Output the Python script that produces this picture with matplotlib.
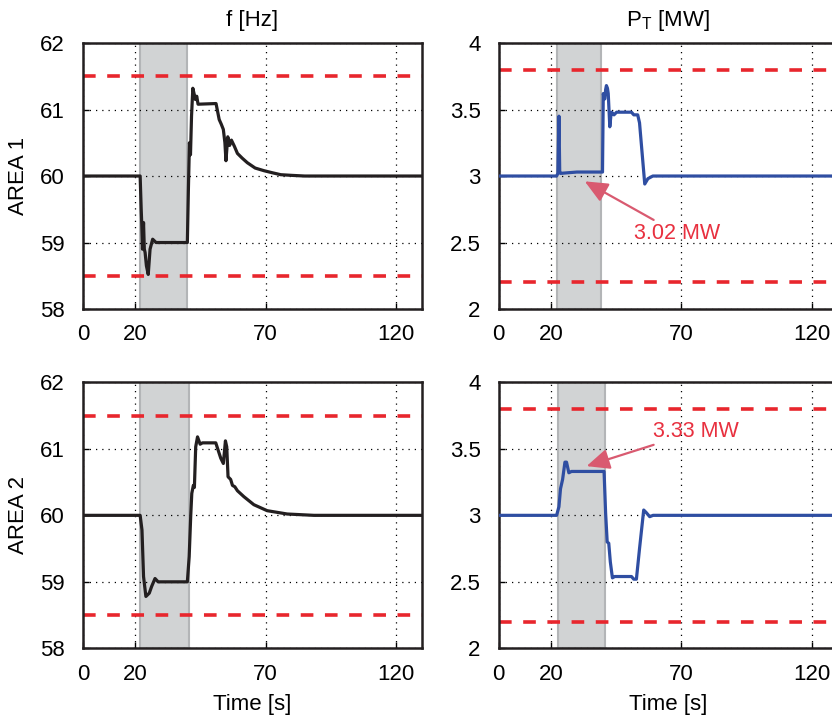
import matplotlib
matplotlib.use("Agg")
from matplotlib import pyplot as plt

plt.rcParams['font.family'] = ['Liberation Sans', 'DejaVu Sans']

# area 1 frequency [Hz]
t_f1 = [0, 21.9, 22.3, 22.5, 22.8, 23.2, 23.5, 23.8, 24.3, 25.0, 25.7, 26.7, 28.0,
        40.0, 40.4, 40.8, 41.2, 41.6, 42.1, 43.1, 43.6, 44.1, 51.0, 52.2, 53.0,
        53.8, 54.4, 54.8, 55.5, 56.2, 56.9, 58.0, 59.2, 61.0, 63.0, 66.0, 69.4,
        72.5, 75.8, 80.0, 85.0, 130]
f1 = [60, 60, 59.5, 59.3, 58.9, 59.3, 58.9, 58.85, 58.65, 58.52, 58.9, 59.05, 59.0,
      59.0, 59.8, 60.5, 60.32, 60.9, 61.32, 61.15, 61.2, 61.08, 61.09, 60.85, 60.78,
      60.7, 60.5, 60.23, 60.59, 60.46, 60.54, 60.45, 60.34, 60.27, 60.2, 60.12, 60.08,
      60.05, 60.02, 60.01, 60.0, 60.0]

# area 1 tie-line power [MW]
t_p1 = [0, 22.2, 22.7, 23.1, 23.4, 23.7, 30, 39.8, 40.1, 40.4, 40.7, 41.0, 41.3,
        41.7, 42.0, 42.6, 43.0, 43.3, 44.2, 45.2, 50.9, 51.8, 53.3, 54.0, 56.0,
        57.2, 59.1, 130]
p1 = [3.0, 3.0, 3.02, 3.45, 3.03, 3.02, 3.03, 3.03, 3.62, 3.58, 3.58, 3.65, 3.68,
      3.66, 3.62, 3.37, 3.45, 3.48, 3.46, 3.48, 3.48, 3.46, 3.46, 3.4, 2.94,
      2.98, 3.0, 3.0]

# area 2 frequency [Hz]
t_f2 = [0, 21.9, 22.6, 23.2, 24.1, 25.4, 26.3, 27.6, 28.8, 40.0, 40.7, 41.3, 41.7,
        42.3, 42.7, 43.2, 43.9, 44.9, 45.8, 50.9, 51.8, 52.8, 53.8, 54.6, 55.1,
        55.6, 56.6, 57.3, 58.2, 59.2, 61.7, 65.5, 70.6, 78.3, 88.5, 130]
f2 = [60, 60, 59.78, 59.08, 58.78, 58.83, 58.93, 59.05, 59.0, 59.0, 59.38, 60.0, 60.33,
      60.45, 60.42, 61.03, 61.18, 61.07, 61.09, 61.09, 60.98, 60.86, 60.78, 61.12, 61.03,
      60.58, 60.54, 60.45, 60.43, 60.37, 60.28, 60.16, 60.07, 60.02, 60.0, 60.0]

# area 2 tie-line power [MW]
t_p2 = [0, 22.2, 23.1, 23.7, 24.5, 25.4, 26.0, 26.9, 27.9, 40.4, 41.0, 41.6, 42.2,
        42.8, 43.6, 44.5, 50.9, 51.8, 52.8, 54.0, 55.6, 56.6, 57.9, 59.2, 130]
p2 = [3.0, 3.0, 3.065, 3.2, 3.27, 3.40, 3.40, 3.32, 3.33, 3.33, 3.015, 2.80, 2.79,
      2.65, 2.53, 2.54, 2.54, 2.52, 2.52, 2.75, 3.04, 3.02, 2.99, 3.0, 3.0]

f_limits = [58.5, 61.5]
p_limits = [2.2, 3.8]
f_ticks = [58, 59, 60, 61, 62]
p_ticks = [2, 2.5, 3, 3.5, 4]
p_ticklabels = ['2', '2.5', '3', '3.5', '4']
x_ticks = [0, 20, 70, 120]
fault_spans = [(21.7, 39.8), (22.2, 39.1), (21.7, 40.5), (22.6, 40.8)]

FS = 16
RED = '#e8262d'
GRID_KW = dict(color='black', linestyle=(0, (1, 4)), linewidth=0.9)


def setup_axis(ax, ylim, yticks, yticklabels=None):
    ax.set_xlim(0, 130)
    ax.set_ylim(*ylim)
    ax.set_xticks(x_ticks)
    ax.set_yticks(yticks)
    if yticklabels:
        ax.set_yticklabels(yticklabels)
    ax.tick_params(direction='in', length=4, width=1, labelsize=FS, pad=13)
    ax.tick_params(axis='x', pad=11)
    ax.grid(True, **GRID_KW)
    for sp in ax.spines.values():
        sp.set_linewidth(1.8)
        sp.set_color('#231f20')


fig = plt.figure(figsize=(8.32, 7.16), dpi=100)
w, h = 0.4075, 0.3715
ax_f1 = fig.add_axes([0.0998, 0.5684, w, h])
ax_p1 = fig.add_axes([0.5994, 0.5684, w, h])
ax_f2 = fig.add_axes([0.0998, 0.0945, w, h])
ax_p2 = fig.add_axes([0.5994, 0.0945, w, h])

panels = [
    (ax_f1, t_f1, f1, f_limits, '#231f20'),
    (ax_p1, t_p1, p1, p_limits, '#2f4ea2'),
    (ax_f2, t_f2, f2, f_limits, '#231f20'),
    (ax_p2, t_p2, p2, p_limits, '#2f4ea2'),
]

for (ax, t, y, lims, col), span in zip(panels, fault_spans):
    ax.axvspan(span[0], span[1], facecolor='#d1d3d4', edgecolor='#b3b5b7',
               linewidth=1.5, zorder=1)
    for lv in lims:
        ax.axhline(lv, color=RED, linewidth=2.6, dashes=(3.5, 3.2), zorder=2)
    ax.plot(t, y, color=col, linewidth=2.3, zorder=3, solid_joinstyle='round')

setup_axis(ax_f1, (58, 62), f_ticks)
setup_axis(ax_f2, (58, 62), f_ticks)
setup_axis(ax_p1, (2, 4), p_ticks, p_ticklabels)
setup_axis(ax_p2, (2, 4), p_ticks, p_ticklabels)

ax_f1.set_title('f [Hz]', fontsize=FS, pad=12)
ax_p1.set_title('P$_\\mathregular{T}$ [MW]', fontsize=FS, pad=12)
ax_f1.set_ylabel('AREA 1', fontsize=FS, labelpad=8)
ax_f2.set_ylabel('AREA 2', fontsize=FS, labelpad=8)
ax_f2.set_xlabel('Time [s]', fontsize=FS, labelpad=7)
ax_p2.set_xlabel('Time [s]', fontsize=FS, labelpad=7)

arrow_kw = dict(arrowstyle='-|>,head_length=0.9,head_width=0.4', color='#d95a70',
                linewidth=1.6, shrinkA=0, shrinkB=0)
ax_p1.annotate('3.02 MW', xy=(33.0, 2.96), xytext=(52.0, 2.57), fontsize=15.5,
               color='#e8303f', va='center', ha='left', arrowprops=arrow_kw)
ax_p2.annotate('3.33 MW', xy=(33.7, 3.37), xytext=(59.0, 3.63), fontsize=15.5,
               color='#e8303f', va='center', ha='left', arrowprops=arrow_kw)

fig.savefig('out.png', dpi=100)
